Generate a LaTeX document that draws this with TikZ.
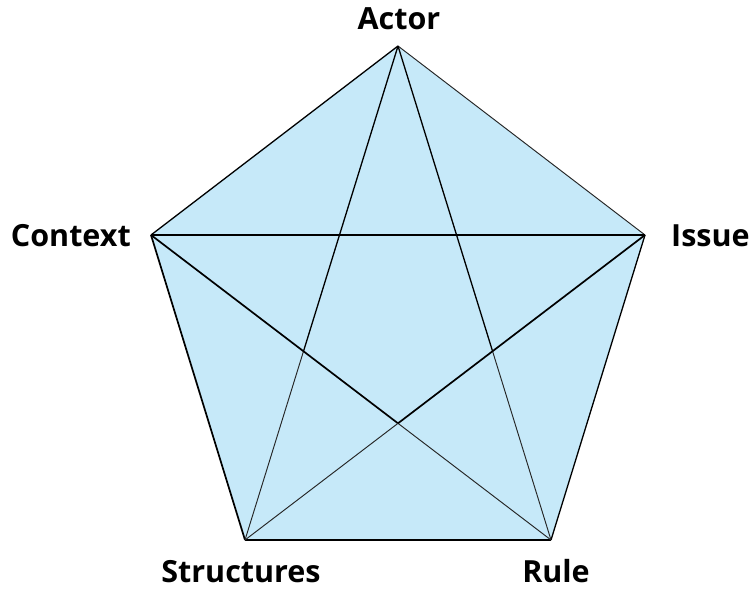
\documentclass[tikz,border=0pt]{standalone}
\usepackage{fontspec}
\setmainfont{Open Sans}
\definecolor{pentfill}{RGB}{198,233,249}
\begin{document}
\begin{tikzpicture}[
    x=1pt, y=-1pt,
    every node/.style={font=\fontsize{30.5}{34}\selectfont\bfseries, inner sep=0pt},
    thickline/.style={black, line width=1.7pt},
    midline/.style={black, line width=1.3pt},
    thinline/.style={black!85, line width=0.95pt}]
    \useasboundingbox (0,0) rectangle (751,588);
    \coordinate (actor) at (398,46);
    \coordinate (issue) at (645,235);
    \coordinate (rule) at (551,540);
    \coordinate (structures) at (245,540);
    \coordinate (context) at (151,235);
    \coordinate (m) at (intersection of context--rule and issue--structures);
    \coordinate (p) at (intersection of actor--structures and context--rule);
    \coordinate (q) at (intersection of actor--rule and issue--structures);
    \fill[pentfill] (actor) -- (issue) -- (rule) -- (structures) -- (context) -- cycle;
    % outline
    \draw[midline] (actor) -- (context);
    \draw[thinline] (actor) -- (issue);
    \draw[midline] (issue) -- (rule);
    \draw[midline] (rule) -- (structures);
    \draw[thickline] (context) -- (structures);
    % diagonals
    \draw[thickline] (context) -- (issue);
    \draw[midline] (actor) -- (p);
    \draw[thinline] (p) -- (structures);
    \draw[midline] (actor) -- (q);
    \draw[thinline] (q) -- (rule);
    \draw[thickline] (context) -- (m);
    \draw[thinline] (m) -- (rule);
    \draw[thickline] (issue) -- (m);
    \draw[thinline] (m) -- (structures);
    % labels
    \node[anchor=base] (actorlabel) at (399,30) {Actor};
    \node[anchor=base east] (contextlabel) at (131,246) {Context};
    \node[anchor=base west] (issuelabel) at (671,246) {Issue};
    \node[anchor=base] (structureslabel) at (241,582) {Structures};
    \node[anchor=base] (rulelabel) at (556,582) {Rule};
\end{tikzpicture}
\end{document}
